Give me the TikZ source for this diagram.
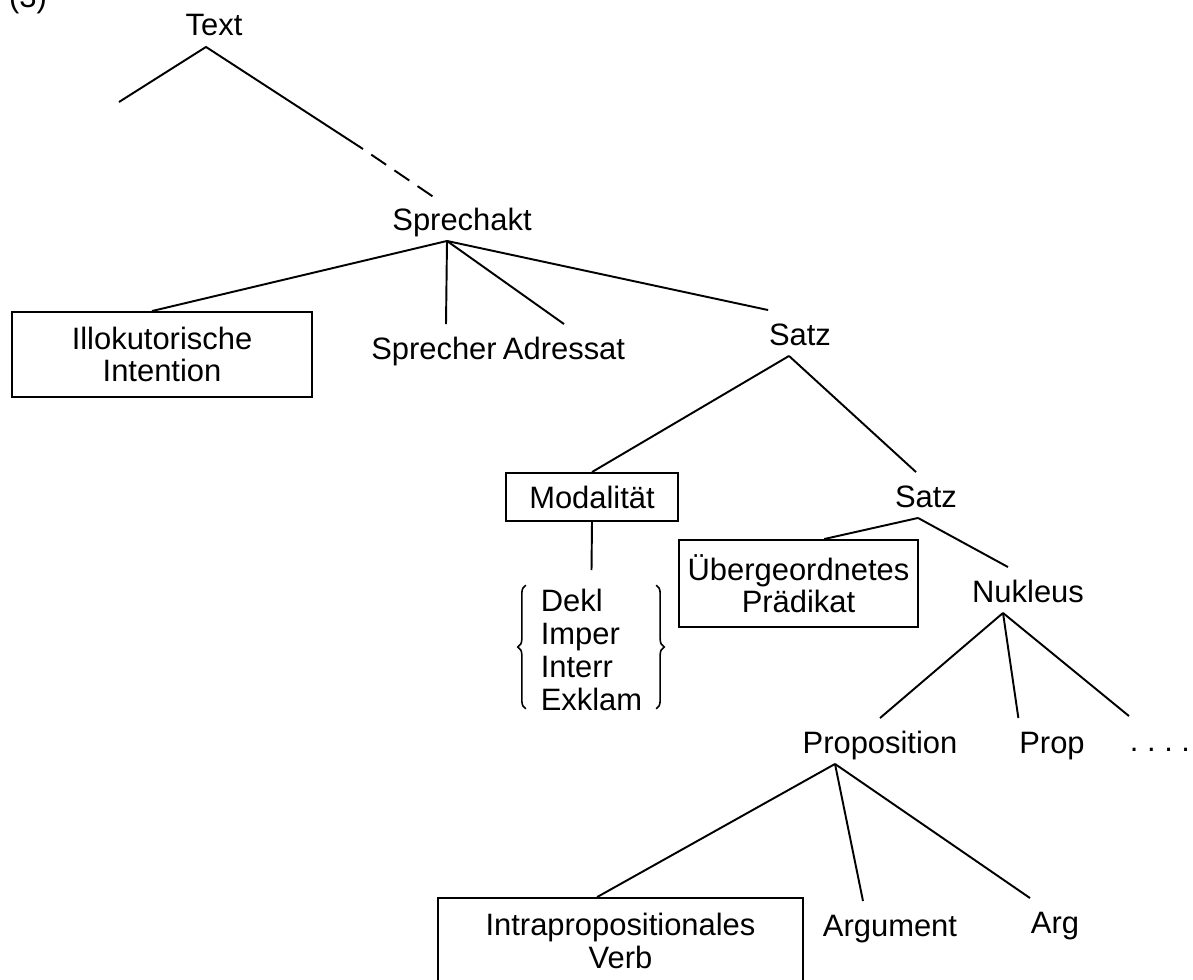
\documentclass[tikz,border=0pt]{standalone}
\usepackage{fontspec}
\setmainfont{Liberation Sans}
\usetikzlibrary{decorations.pathreplacing}

\tikzset{
  lbl/.style={inner sep=0pt, text height=0.68cm, text depth=0.2cm, anchor=base},
  kasten/.style={draw, align=center, inner sep=0pt},
  klammer/.style={decorate, decoration={brace, amplitude=0.16cm}, line width=0.9pt},
}

\begin{document}
\begin{tikzpicture}[x=0.02cm, y=-0.02cm, line width=1.1pt,
  every node/.style={font=\fontsize{17.6}{18.4}\selectfont}]
\useasboundingbox (0,0) rectangle (1193,980);

\node[lbl] (nr) at (28,8) {(3)};
\node[lbl] (txt) at (214,36) {Text};
\node[lbl] (sprechakt) at (462,230) {Sprechakt};
\node[kasten, minimum width=6cm, minimum height=1.7cm] (illok) at (162,354.5) {Illokutorische\\Intention};
\node[lbl] (sprecher) at (434,359) {Sprecher};
\node[lbl] (adressat) at (564,359) {Adressat};
\node[lbl] (satzA) at (800,345) {Satz};
\node[kasten, minimum width=3.44cm, minimum height=0.96cm] (modal) at (592,497) {Modalität};
\node[align=left, inner xsep=0pt, inner ysep=0.36cm, font=\fontsize{17.6}{18.8}\selectfont] (modi) at (591.5,650) {Dekl\\Imper\\Interr\\Exklam};
\node[lbl] (satzB) at (926,507) {Satz};
\node[kasten, minimum width=4.78cm, minimum height=1.74cm] (ueber) at (798.5,583.5) {Übergeordnetes\\Prädikat};
\node[lbl] (nukleus) at (1028,602) {Nukleus};
\node[lbl] (proposition) at (880,753) {Proposition};
\node[lbl] (prop) at (1052,753) {Prop};
\node[lbl] (dots) at (1160,751) {.\ .\ .\ .};
\node[kasten, minimum width=7.3cm, minimum height=1.72cm] (intra) at (620.5,941) {Intrapropositionales\\Verb};
\node[lbl] (arga) at (890,936) {Argument};
\node[lbl] (argb) at (1055,933) {Arg};

\coordinate (links) at (119,102);
\coordinate (bruch) at (363,149);
\coordinate (ende) at (435,198);

% Text
\draw (links) -- ([xshift=-0.16cm]txt.south) -- (bruch);
\draw[dash pattern=on 0.36cm off 0.2cm, dash phase=0.36cm] (bruch) -- (ende);

% Sprechakt
\draw ([xshift=-0.3cm]sprechakt.south) -- (illok.103);
\draw ([xshift=-0.3cm]sprechakt.south) -- ([xshift=0.24cm]sprecher.north);
\draw ([xshift=-0.3cm]sprechakt.south) -- (adressat.north);
\draw ([xshift=-0.3cm]sprechakt.south) -- (satzA.north west);

% Satz
\draw ([xshift=-0.22cm]satzA.south) -- (modal.north);
\draw ([xshift=-0.22cm]satzA.south) -- ([xshift=-0.2cm]satzB.north);
\draw (modal.south) -- (modi.north);
\draw ([xshift=-0.16cm]satzB.south) -- (ueber.60);
\draw ([xshift=-0.16cm]satzB.south) -- ([xshift=-0.4cm]nukleus.north);

% Klammern
\draw[klammer] ([xshift=-0.28cm, yshift=0.42cm]modi.south west) -- ([xshift=-0.28cm, yshift=-0.3cm]modi.north west);
\draw[klammer] ([xshift=0.26cm, yshift=-0.3cm]modi.north east) -- ([xshift=0.26cm, yshift=0.42cm]modi.south east);

% Nukleus
\draw ([xshift=-0.5cm]nukleus.south) -- (proposition.north);
\draw ([xshift=-0.5cm]nukleus.south) -- (prop.north west);
\draw ([xshift=-0.5cm]nukleus.south) -- (dots.north west);

% Proposition
\draw ([xshift=-0.9cm]proposition.south) -- (intra.118);
\draw ([xshift=-0.9cm]proposition.south) -- ([xshift=-0.54cm]arga.north);
\draw ([xshift=-0.9cm]proposition.south) -- (argb.north west);
\end{tikzpicture}
\end{document}
